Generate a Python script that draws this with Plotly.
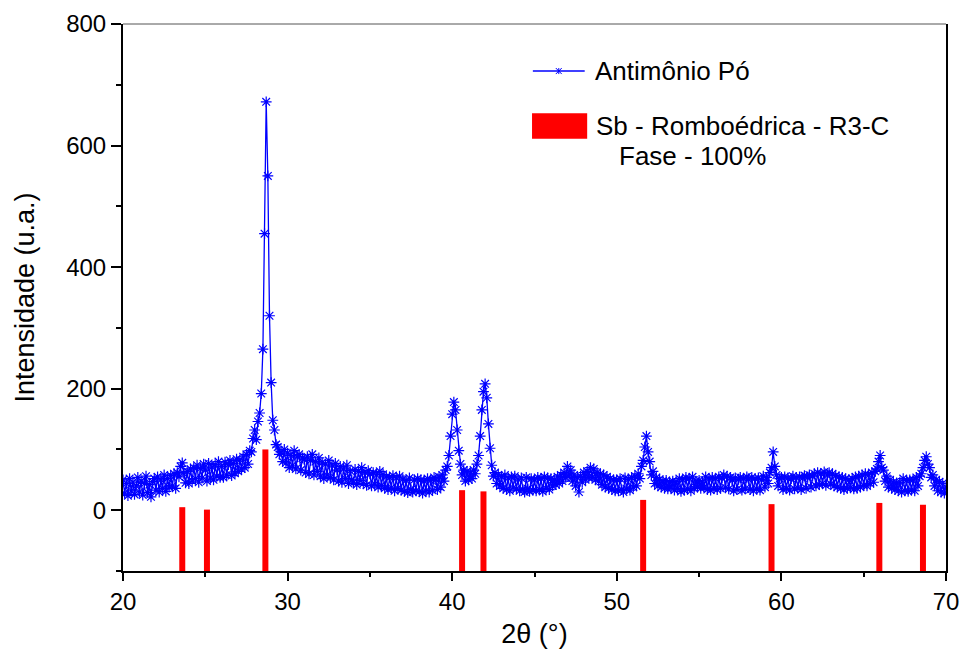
import numpy as np
import plotly.graph_objects as go

# 2theta scan grid (0.1 deg step)
two_theta = np.round(np.linspace(20, 70, 501), 1)

# measured intensity, one row per degree (20.0 ... 69.9, then 70.0)
intensity = [
    50, 28, 44, 24, 52, 32, 46, 26, 40, 54,
    30, 48, 25, 44, 56, 29, 42, 22, 47, 52,
    33, 55, 30, 50, 36, 58, 31, 52, 38, 57,
    40, 60, 36, 62, 55, 72, 78, 60, 45, 64,
    44, 68, 48, 70, 52, 74, 46, 69, 53, 76,
    66, 48, 77, 53, 71, 50, 75, 56, 80, 54,
    72, 54, 79, 58, 75, 82, 57, 77, 61, 84,
    64, 83, 68, 88, 70, 92, 76, 98, 96, 118,
    132, 116, 146, 160, 192, 265, 455, 672, 550, 320,
    210, 148, 132, 108, 104, 92, 96, 80, 100, 78,
    94, 70, 90, 74, 98, 68, 88, 92, 66, 86,
    84, 62, 88, 60, 82, 92, 58, 80, 64, 86,
    56, 78, 52, 76, 58, 82, 54, 74, 50, 77,
    66, 48, 72, 46, 68, 52, 74, 44, 65, 50,
    46, 67, 42, 64, 49, 70, 44, 62, 41, 65,
    60, 40, 62, 43, 58, 38, 64, 41, 59, 36,
    55, 34, 54, 37, 57, 32, 53, 36, 56, 33,
    51, 31, 49, 29, 53, 34, 30, 50, 32, 52,
    31, 50, 28, 48, 32, 52, 30, 49, 33, 54,
    50, 34, 55, 38, 58, 48, 66, 72, 90, 122,
    158, 178, 165, 132, 98, 76, 58, 66, 48, 64,
    50, 60, 52, 66, 60, 76, 90, 122, 165, 195,
    208, 185, 142, 102, 74, 56, 62, 44, 58, 40,
    55, 36, 58, 34, 53, 32, 55, 37, 56, 35,
    51, 32, 53, 34, 30, 54, 35, 31, 52, 33,
    50, 32, 54, 34, 52, 31, 55, 36, 53, 34,
    52, 40, 50, 42, 55, 44, 58, 48, 62, 54,
    72, 56, 66, 48, 58, 40, 54, 30, 56, 46,
    62, 50, 64, 54, 70, 54, 68, 50, 62, 48,
    60, 42, 58, 38, 55, 36, 52, 34, 50, 32,
    50, 32, 52, 34, 30, 53, 35, 51, 33, 54,
    38, 56, 40, 60, 52, 72, 82, 104, 122, 96,
    80, 58, 64, 44, 54, 40, 51, 38, 48, 36,
    49, 35, 46, 37, 48, 33, 47, 36, 52, 31,
    50, 33, 54, 35, 52, 32, 55, 36, 48, 38,
    49, 36, 46, 38, 55, 34, 51, 33, 54, 36,
    52, 34, 55, 36, 53, 58, 37, 56, 35, 54,
    50, 32, 53, 34, 51, 54, 33, 52, 35, 55,
    51, 34, 54, 32, 52, 35, 53, 33, 50, 56,
    38, 54, 44, 62, 70, 96, 72, 58, 40, 52,
    54, 34, 55, 36, 53, 33, 52, 56, 35, 54,
    37, 55, 34, 53, 57, 36, 54, 58, 38, 56,
    60, 40, 62, 42, 60, 44, 63, 41, 58, 62,
    43, 60, 40, 57, 38, 55, 36, 54, 34, 52,
    36, 50, 37, 52, 35, 55, 36, 56, 38, 58,
    41, 60, 40, 58, 44, 62, 46, 64, 68, 80,
    90, 70, 66, 48, 56, 38, 50, 36, 46, 34,
    45, 32, 46, 30, 52, 32, 49, 31, 50, 33,
    50, 32, 54, 40, 56, 60, 70, 82, 88, 76,
    70, 54, 58, 40, 50, 32, 47, 30, 44, 28,
    38,
]

# reference pattern Sb (rhombohedral)
ref_pos = [23.6, 25.1, 28.65, 40.6, 41.9, 51.6, 59.4, 65.95, 68.6]
ref_int = [5, 1, 100, 33, 31, 17, 10, 12, 9]
ref_base = -100

fig = go.Figure()

fig.add_trace(go.Scatter(
    x=two_theta, y=intensity, mode="lines+markers",
    line=dict(color="#0000ff", width=1.3),
    marker=dict(symbol="asterisk-open", size=9, color="#0000ff",
                line=dict(color="#0000ff", width=1.2)),
    name="Antimônio Pó", showlegend=False,
))

# reference lines as thick sticks from the bottom of the axis
stick_x, stick_y = [], []
for p, h in zip(ref_pos, ref_int):
    stick_x += [p, p, None]
    stick_y += [ref_base, h, None]
fig.add_trace(go.Scatter(
    x=stick_x, y=stick_y, mode="lines",
    line=dict(color="#ff0000", width=6),
    name="Sb - Romboédrica - R3-C", showlegend=False,
))

font = "Arial, Liberation Sans, sans-serif"

# legend drawn by hand
ly = 0.914
fig.add_shape(type="line", xref="paper", yref="paper",
              x0=0.498, x1=0.561, y0=ly, y1=ly,
              line=dict(color="#0000ff", width=1.5))
mx, dx, dy = 0.5295, 0.0036, 0.0055
for x0, y0, x1, y1 in [(mx - dx, ly - dy, mx + dx, ly + dy),
                       (mx - dx, ly + dy, mx + dx, ly - dy),
                       (mx, ly - dy, mx, ly + dy)]:
    fig.add_shape(type="line", xref="paper", yref="paper",
                  x0=x0, y0=y0, x1=x1, y1=y1,
                  line=dict(color="#0000ff", width=1))
fig.add_annotation(xref="paper", yref="paper", x=0.571, y=ly,
                   xanchor="left", yanchor="middle",
                   text="Antimônio Pó", showarrow=False,
                   font=dict(size=26, color="black", family=font))
fig.add_shape(type="rect", xref="paper", yref="paper",
              x0=0.497, x1=0.564, y0=0.790, y1=0.837,
              fillcolor="#ff0000", line=dict(width=0))
fig.add_annotation(xref="paper", yref="paper", x=0.572, y=0.8135,
                   xanchor="left", yanchor="middle",
                   text="Sb - Romboédrica - R3-C", showarrow=False,
                   font=dict(size=26, color="black", family=font))
fig.add_annotation(xref="paper", yref="paper", x=0.600, y=0.759,
                   xanchor="left", yanchor="middle",
                   text="Fase - 100%", showarrow=False,
                   font=dict(size=26, color="black", family=font))

# thin top frame line
fig.add_shape(type="line", xref="paper", yref="paper",
              x0=0, x1=1, y0=1, y1=1, line=dict(color="#555555", width=1))

fig.update_layout(
    width=960, height=649,
    margin=dict(l=123, r=14, t=24, b=78),
    plot_bgcolor="white", paper_bgcolor="white",
    font=dict(family=font, color="black", size=24),
)
fig.update_xaxes(
    range=[20, 70], tick0=20, dtick=10, automargin=False,
    ticklabeloverflow="allow",
    showline=True, linecolor="black", linewidth=2, mirror=False,
    ticks="outside", ticklen=8, tickwidth=2, tickcolor="black",
    minor=dict(dtick=5, ticks="outside", ticklen=4, tickwidth=2, tickcolor="black"),
    showgrid=False, zeroline=False,
    tickfont=dict(size=24),
    title=dict(text="2θ (°)", font=dict(size=27), standoff=16),
)
fig.update_yaxes(
    range=[-100, 800], tick0=0, dtick=200, automargin=False,
    showline=True, linecolor="black", linewidth=2, mirror=True,
    ticks="outside", ticklen=10, tickwidth=2, tickcolor="black",
    minor=dict(dtick=100, ticks="outside", ticklen=5, tickwidth=2, tickcolor="black"),
    showgrid=False, zeroline=False,
    tickfont=dict(size=24),
    title=dict(text="Intensidade (u.a.)", font=dict(size=27), standoff=24),
)

# drop the default page margin so the 960x649 figure fills the window
fig.write_html("out.html", config={"displayModeBar": False},
               post_script="document.body.style.margin='0';")
